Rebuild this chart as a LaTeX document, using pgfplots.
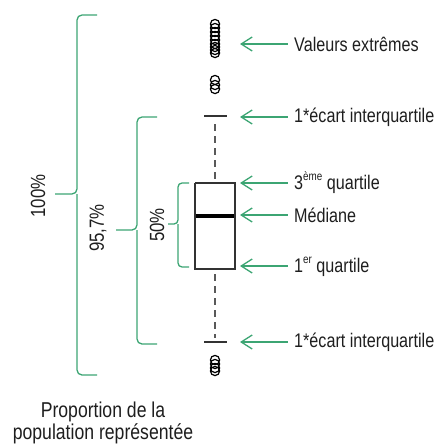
\documentclass[border=0pt]{standalone}
\usepackage{pgfplots}
\pgfplotsset{compat=1.18}
\usepackage{fontspec}
\setmainfont{Liberation Sans}[FakeStretch=0.82]
\usetikzlibrary{arrows.meta}
\definecolor{grn}{RGB}{60,165,115}
\definecolor{txt}{RGB}{30,30,30}
\begin{document}
\begin{tikzpicture}
\begin{axis}[
  scale only axis, width=438pt, height=447pt,
  xmin=0, xmax=438, ymin=0, ymax=447, y dir=reverse,
  hide axis, clip=false,
]
% box
\addplot[draw=black!80, line width=1.3pt] coordinates {(195,183) (235,183) (235,269) (195,269) (195,183)};
% median
\addplot[black, line width=3.2pt] coordinates {(195.7,216) (234.3,216)};
% whiskers
\addplot[black!65, line width=1.6pt, dash pattern=on 7pt off 5pt] coordinates {(215,124) (215,183)};
\addplot[black!65, line width=1.6pt, dash pattern=on 7pt off 5pt] coordinates {(215,274) (215,338)};
\addplot[black!80, line width=1.3pt] coordinates {(204,116) (227,116)};
\addplot[black!80, line width=1.3pt] coordinates {(204,342) (227,342)};
% outliers
\addplot[only marks, mark=o, mark size=4.6pt, mark options={line width=1.2pt, black}] coordinates {
(215,24) (215,28) (215,32) (215,36) (215,40) (215,44) (215,47) (215,50) (215,53)
(215,80) (215,85) (215,89)
(215,360) (215,364) (215,368) (215,371)};
% arrows
\foreach \yy in {44,117,183,215,266,342} {
  \edef\temp{\noexpand\draw[grn, line width=1.3pt, {Straight Barb[length=11pt,width=14pt]}-] (axis cs:240,\yy) -- (axis cs:288,\yy);}
  \temp
}
\node[anchor=west, txt, font=\fontsize{19.7}{22}\selectfont, inner sep=0pt] at (axis cs:294,44) {Valeurs extrêmes};
\node[anchor=west, txt, font=\fontsize{19.7}{22}\selectfont, inner sep=0pt] at (axis cs:294,117) {1*écart interquartile};
\node[anchor=west, txt, font=\fontsize{19.7}{22}\selectfont, inner sep=0pt] at (axis cs:294,183) {3\raisebox{0.45em}{\fontsize{12}{12}\selectfont ème} quartile};
\node[anchor=west, txt, font=\fontsize{19.7}{22}\selectfont, inner sep=0pt] at (axis cs:294,215) {Médiane};
\node[anchor=west, txt, font=\fontsize{19.7}{22}\selectfont, inner sep=0pt] at (axis cs:294,267) {1\raisebox{0.45em}{\fontsize{12}{12}\selectfont er} quartile};
\node[anchor=west, txt, font=\fontsize{19.7}{22}\selectfont, inner sep=0pt] at (axis cs:294,342) {1*écart interquartile};
% brackets
\draw[grn, line width=1.3pt, rounded corners=5pt] (axis cs:97,15) -- (axis cs:77,15) -- (axis cs:77,194) -- (axis cs:55,194);
\draw[grn, line width=1.3pt, rounded corners=5pt] (axis cs:97,375) -- (axis cs:77,375) -- (axis cs:77,194);
\draw[grn, line width=1.3pt, rounded corners=5pt] (axis cs:157,117) -- (axis cs:137,117) -- (axis cs:137,230) -- (axis cs:116,230);
\draw[grn, line width=1.3pt, rounded corners=5pt] (axis cs:157,344) -- (axis cs:137,344) -- (axis cs:137,230);
\draw[grn, line width=1.3pt, rounded corners=4pt] (axis cs:189,183) -- (axis cs:178,183) -- (axis cs:178,224) -- (axis cs:168,224);
\draw[grn, line width=1.3pt, rounded corners=4pt] (axis cs:189,267) -- (axis cs:178,267) -- (axis cs:178,224);
\node[rotate=90, txt, font=\fontsize{20.5}{22}\selectfont, inner sep=0pt] at (axis cs:38,196) {100\%};
\node[rotate=90, txt, font=\fontsize{20.5}{22}\selectfont, inner sep=0pt] at (axis cs:98,228) {95,7\%};
\node[rotate=90, txt, font=\fontsize{20.5}{22}\selectfont, inner sep=0pt] at (axis cs:157,225) {50\%};
\node[txt, font=\fontsize{21.5}{22.5}\selectfont, align=center, inner sep=0pt] at (axis cs:103,423) {Proportion de la\\population représentée};
\end{axis}
\pgfresetboundingbox
\useasboundingbox (current axis.south west) rectangle (current axis.north east);
\end{tikzpicture}
\end{document}
